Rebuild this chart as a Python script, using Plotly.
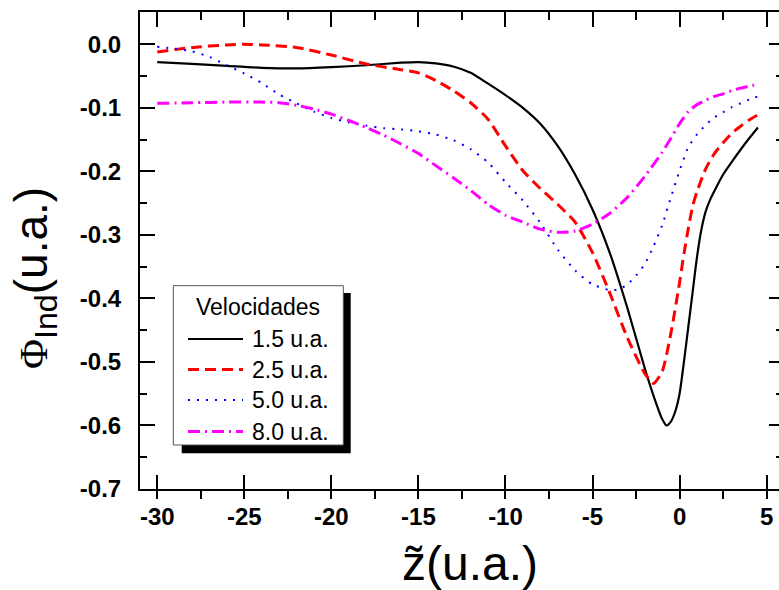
import plotly.graph_objects as go

# ---------------- data ----------------
x_v15 = [-30, -28, -26, -24, -22, -20, -18, -16, -15, -14, -13, -12, -11, -10, -9, -8, -7, -6, -5, -4,
         -3, -2, -1.5, -1, -0.75, -0.5, -0.25, 0, 0.25, 0.5, 0.75, 1, 1.25, 1.5, 1.75, 2, 2.5, 3, 3.5, 4, 4.5]
y_v15 = [-0.028, -0.031, -0.034, -0.037, -0.038, -0.036, -0.033, -0.029, -0.028, -0.030, -0.035, -0.045,
         -0.062, -0.080, -0.100, -0.125, -0.160, -0.205, -0.260, -0.329, -0.415, -0.510, -0.553, -0.590,
         -0.600, -0.594, -0.578, -0.550, -0.500, -0.445, -0.390, -0.335, -0.292, -0.263, -0.245, -0.231,
         -0.205, -0.185, -0.166, -0.148, -0.131]

x_v25 = [-30, -28, -26, -25, -24, -22, -20, -18, -16, -15, -14, -13, -12, -11, -10, -9, -8, -7, -6, -5,
         -4, -3, -2, -1.5, -1, -0.5, 0, 0.25, 0.5, 0.75, 1, 1.5, 2, 2.5, 3, 3.5, 4, 4.5]
y_v25 = [-0.012, -0.005, -0.001, 0.0, -0.001, -0.005, -0.017, -0.031, -0.040, -0.045, -0.057, -0.073,
         -0.092, -0.118, -0.160, -0.199, -0.227, -0.252, -0.280, -0.328, -0.392, -0.462, -0.518, -0.534,
         -0.515, -0.455, -0.375, -0.330, -0.290, -0.255, -0.232, -0.196, -0.172, -0.155, -0.140, -0.129,
         -0.119, -0.111]

x_v50 = [-30, -29, -28, -27, -26, -25, -24, -23, -22, -21, -20, -19, -18, -17, -16, -15, -14, -13, -12,
         -11, -10, -9, -8, -7, -6, -5, -4, -3.5, -3, -2.5, -2, -1.5, -1, -0.5, 0, 0.5, 1, 1.5, 2, 2.5,
         3, 3.5, 4, 4.5]
y_v50 = [-0.004, -0.007, -0.011, -0.020, -0.033, -0.046, -0.061, -0.079, -0.093, -0.106, -0.116, -0.123,
         -0.128, -0.132, -0.134, -0.137, -0.142, -0.151, -0.165, -0.186, -0.217, -0.246, -0.281, -0.323,
         -0.356, -0.378, -0.387, -0.386, -0.378, -0.364, -0.346, -0.318, -0.285, -0.241, -0.199, -0.162,
         -0.142, -0.127, -0.115, -0.107, -0.099, -0.093, -0.087, -0.082]

x_v80 = [-30, -28, -26, -24, -23, -22, -21, -20, -19, -18, -17, -16, -15, -14, -13, -12, -11, -10, -9,
         -8, -7, -6, -5, -4, -3, -2, -1, -0.5, 0, 0.5, 1, 1.5, 2, 2.5, 3, 3.5, 4, 4.5]
y_v80 = [-0.093, -0.092, -0.091, -0.091, -0.092, -0.096, -0.102, -0.110, -0.120, -0.131, -0.143, -0.157,
         -0.172, -0.191, -0.210, -0.230, -0.252, -0.269, -0.280, -0.291, -0.296, -0.294, -0.283, -0.266,
         -0.241, -0.208, -0.170, -0.148, -0.125, -0.106, -0.095, -0.088, -0.082, -0.078, -0.073, -0.069,
         -0.066, -0.063]

series_names = ["1.5 u.a.", "2.5 u.a.", "5.0 u.a.", "8.0 u.a."]
legend_title = "Velocidades"

x_tick_vals = [-30, -25, -20, -15, -10, -5, 0, 5]
x_tick_text = ["-30", "-25", "-20", "-15", "-10", "-5", "0", "5"]
y_tick_vals = [0.0, -0.1, -0.2, -0.3, -0.4, -0.5, -0.6, -0.7]
y_tick_text = ["0.0", "-0.1", "-0.2", "-0.3", "-0.4", "-0.5", "-0.6", "-0.7"]

# ---------------- styles ----------------
W, H = 779, 590
ML, MR, MT, MB = 140, 0, 12, 101
L, R, T, B = ML, W - MR, MT, H - MB
X_RANGE = [-30.99, 5.71]
Y_RANGE = [-0.7, 0.0508]

styles = [
    dict(color="#000000", width=2.2, dash="solid"),
    dict(color="#ff0000", width=3, dash="11px,6px"),
    dict(color="#0000ff", width=2, dash="2px,7px"),
    dict(color="#ff00ff", width=3, dash="12px,5px,2px,5px"),
]

TICKFONT = dict(family="Liberation Sans, Arial, sans-serif", size=24, color="black", weight="bold")
SANS = "Liberation Sans, Arial, sans-serif"


def px_x(p):
    return (p - L) / (R - L)


def px_y(p):
    return (B - p) / (B - T)


fig = go.Figure()
for xs, ys, nm, st in zip([x_v15, x_v25, x_v50, x_v80], [y_v15, y_v25, y_v50, y_v80], series_names, styles):
    fig.add_trace(go.Scatter(x=xs, y=ys, mode="lines", name=nm, line=dict(**st, shape="spline", smoothing=0.6),
                             showlegend=False))

# helper trace to draw mirrored (top/right) axes
fig.add_trace(go.Scatter(x=[], y=[], xaxis="x2", yaxis="y2", showlegend=False, hoverinfo="skip"))

fig.update_layout(
    width=W, height=H,
    margin=dict(l=ML, r=MR, t=MT, b=MB, pad=0),
    paper_bgcolor="white", plot_bgcolor="white",
    showlegend=False,
    xaxis=dict(range=X_RANGE, tickmode="array", tickvals=x_tick_vals, ticktext=x_tick_text,
               ticks="inside", ticklen=14, tickwidth=2, tickcolor="black",
               minor=dict(ticks="outside", ticklen=8, tickwidth=2, tickcolor="black", tickmode="linear",
                          tick0=0, dtick=2.5),
               showline=True, linewidth=2, linecolor="black", showgrid=False, zeroline=False,
               tickfont=TICKFONT, ticklabelstandoff=5),
    yaxis=dict(range=Y_RANGE, tickmode="array", tickvals=y_tick_vals, ticktext=y_tick_text,
               ticks="inside", ticklen=15, tickwidth=2, tickcolor="black",
               minor=dict(ticks="inside", ticklen=7, tickwidth=2, tickcolor="black", tickmode="linear",
                          tick0=0, dtick=0.05),
               showline=True, linewidth=2, linecolor="black", showgrid=False, zeroline=False,
               tickfont=TICKFONT, ticklabelstandoff=12),
    xaxis2=dict(range=X_RANGE, overlaying="x", side="top", anchor="y2", tickmode="array",
                tickvals=x_tick_vals, ticks="inside", ticklen=15, tickwidth=2, tickcolor="black",
                minor=dict(ticks="inside", ticklen=8, tickwidth=2, tickcolor="black", tickmode="linear",
                           tick0=0, dtick=2.5),
                showticklabels=False, showline=True, linewidth=2, linecolor="black",
                showgrid=False, zeroline=False),
    yaxis2=dict(range=Y_RANGE, overlaying="y", side="right", anchor="x2", tickmode="array",
                tickvals=y_tick_vals, ticks="inside", ticklen=10, tickwidth=2, tickcolor="black",
                minor=dict(ticks="inside", ticklen=3, tickwidth=2, tickcolor="black", tickmode="linear",
                           tick0=0, dtick=0.05),
                showticklabels=False, showline=False, showgrid=False, zeroline=False),
)

annotations = []
shapes = []

# axis titles
annotations.append(dict(
    text="z\u0303(u.a.)", xref="paper", yref="paper", x=px_x(470), y=px_y(563),
    xanchor="center", yanchor="middle", showarrow=False,
    font=dict(family=SANS, size=48, color="black")))
annotations.append(dict(
    text="<span style='font-family:Liberation Serif, Times New Roman, serif;font-size:41px'>\u03a6</span>"
         "<sub>Ind</sub>(u.a.)",
    xref="paper", yref="paper", x=px_x(34), y=px_y(278), textangle=-90,
    xanchor="center", yanchor="middle", showarrow=False,
    font=dict(family=SANS, size=46, color="black")))

# legend (box with drop shadow)
shapes.append(dict(type="rect", xref="paper", yref="paper", x0=px_x(181.7), x1=px_x(350.7),
                   y0=px_y(453.3), y1=px_y(293), fillcolor="black", line=dict(width=0), layer="above"))
shapes.append(dict(type="rect", xref="paper", yref="paper", x0=px_x(173.3), x1=px_x(343.3),
                   y0=px_y(445), y1=px_y(285.7), fillcolor="white", line=dict(color="#555555", width=1),
                   layer="above"))
annotations.append(dict(text=legend_title, xref="paper", yref="paper", x=px_x(258.3), y=px_y(307),
                        xanchor="center", yanchor="middle", showarrow=False,
                        font=dict(family=SANS, size=23, color="black")))
row_y = [339, 369.5, 400, 431.5]
for nm, st, ry in zip(series_names, styles, row_y):
    shapes.append(dict(type="line", xref="paper", yref="paper", x0=px_x(188), x1=px_x(243),
                       y0=px_y(ry), y1=px_y(ry), line=dict(color=st["color"], width=st["width"], dash=st["dash"]),
                       layer="above"))
    annotations.append(dict(text=nm, xref="paper", yref="paper", x=px_x(250), y=px_y(ry),
                            xanchor="left", yanchor="middle", showarrow=False,
                            font=dict(family=SANS, size=23, color="black")))

fig.update_layout(annotations=annotations, shapes=shapes)
fig.write_html("out.html")
